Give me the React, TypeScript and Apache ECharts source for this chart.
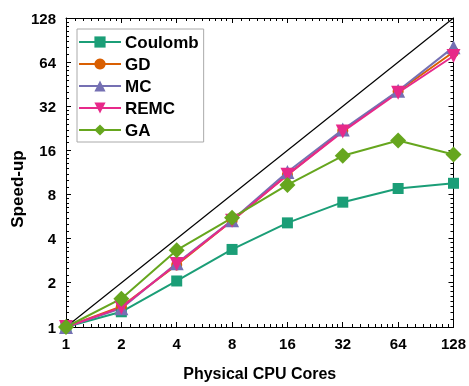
import React, { useEffect, useRef } from "react";
import * as echarts from "echarts";

// Physical CPU cores (x) and measured speed-up per method (y)
const cores = [1, 2, 4, 8, 16, 32, 64, 128];
const coulomb = [1, 1.27, 2.06, 3.38, 5.13, 7.1, 8.8, 9.55];
const gd = [1, 1.38, 2.65, 5.3, 10.9, 21.8, 40.5, 75];
const mc = [1, 1.34, 2.72, 5.35, 11.4, 22.2, 40.8, 81];
const remc = [1, 1.36, 2.69, 5.3, 10.9, 21.5, 39.6, 70.5];
const ga = [1, 1.56, 3.34, 5.55, 9.3, 14.7, 18.7, 15.0];
// Ideal linear scaling reference
const ideal = [1, 128];

// Tick marks drawn on all four sides of the frame (both axes share 1..128)
const AXIS_MIN = 1;
const AXIS_MAX = 128;
const majorTicks = [1, 2, 4, 8, 16, 32, 64, 128];
const minorSteps = [1.125, 1.25, 1.375, 1.5, 1.625, 1.75, 1.875];
const tickValues = [
  ...majorTicks,
  ...majorTicks.slice(0, -1).flatMap((m) => minorSteps.map((s) => m * s)),
];

const FONT = "'Liberation Sans', Arial, Helvetica, sans-serif";

const pairs = (ys: number[]) => cores.map((c, i) => [c, ys[i]]);

const logAxis = (extra: Record<string, unknown>) => ({
  type: "log",
  logBase: 2,
  min: AXIS_MIN,
  max: AXIS_MAX,
  interval: 1,
  axisLine: { show: true, onZero: false, lineStyle: { color: "#000" } },
  axisTick: { show: false },
  minorTick: { show: false },
  splitLine: { show: false },
  ...extra,
});

const labelStyle = {
  show: true,
  color: "#000",
  fontWeight: "bold",
  fontSize: 15,
  fontFamily: FONT,
  formatter: (v: number) => String(Math.round(v)),
};

const crisp = (p: number) => Math.round(p - 0.5) + 0.5;

export default function App() {
  const ref = useRef<HTMLDivElement>(null);

  useEffect(() => {
    if (!ref.current) return;
    const chart = echarts.init(ref.current, null, { renderer: "svg" });

    const mk = (
      name: string,
      ys: number[],
      color: string,
      symbol: string,
      symbolSize: number
    ) => ({
      name,
      type: "line",
      data: pairs(ys),
      symbol,
      symbolSize,
      showSymbol: true,
      lineStyle: { color, width: 2 },
      itemStyle: { color },
      emphasis: { disabled: true },
    });

    chart.setOption({
      animation: false,
      grid: { left: 66, right: 13, top: 18, bottom: 56 },
      legend: {
        data: ["Coulomb", "GD", "MC", "REMC", "GA"],
        orient: "vertical",
        left: 77,
        top: 29,
        itemWidth: 42,
        itemHeight: 14,
        itemGap: 2,
        padding: [3, 5, 2, 1],
        borderColor: "#aaa",
        borderWidth: 1,
        backgroundColor: "#fff",
        z: 10,
        textStyle: {
          color: "#000",
          fontWeight: "bold",
          fontSize: 17,
          fontFamily: FONT,
          lineHeight: 20,
          padding: [0, 0, 0, -1],
        },
      },
      xAxis: [
        logAxis({
          position: "bottom",
          name: "Physical CPU Cores",
          nameLocation: "middle",
          nameGap: 38,
          nameTextStyle: {
            color: "#000",
            fontWeight: "bold",
            fontSize: 16,
            fontFamily: FONT,
          },
          axisLabel: { ...labelStyle, margin: 9 },
        }),
        logAxis({ position: "top", axisLabel: { show: false } }),
      ],
      yAxis: [
        logAxis({ position: "left", axisLabel: { ...labelStyle, margin: 10 } }),
        logAxis({ position: "right", axisLabel: { show: false } }),
      ],
      graphic: [
        {
          type: "text",
          x: 17,
          y: 189,
          rotation: Math.PI / 2,
          style: {
            text: "Speed-up",
            fill: "#000",
            font: `bold 17px ${FONT}`,
            textAlign: "center",
            textVerticalAlign: "middle",
          },
        },
      ],
      series: [
        {
          name: "ticks",
          type: "custom",
          silent: true,
          clip: false,
          z: 1,
          data: tickValues.map((v) => [v, v]),
          encode: { x: 0, y: 1 },
          renderItem: (_params: unknown, api: any) => {
            const v = api.value(0) as number;
            const len = majorTicks.includes(v) ? 5 : 3;
            const [bx, by] = api.coord([v, AXIS_MIN]);
            const [, ty] = api.coord([v, AXIS_MAX]);
            const [lx, ly] = api.coord([AXIS_MIN, v]);
            const [rx] = api.coord([AXIS_MAX, v]);
            const x = crisp(bx);
            const y = crisp(ly);
            const st = { stroke: "#000", lineWidth: 1 };
            return {
              type: "group",
              children: [
                { type: "line", shape: { x1: x, y1: by, x2: x, y2: by - len }, style: st },
                { type: "line", shape: { x1: x, y1: ty, x2: x, y2: ty + len }, style: st },
                { type: "line", shape: { x1: lx, y1: y, x2: lx + len, y2: y }, style: st },
                { type: "line", shape: { x1: rx, y1: y, x2: rx - len, y2: y }, style: st },
              ],
            };
          },
        },
        {
          name: "ideal",
          type: "line",
          data: ideal.map((v) => [v, v]),
          symbol: "none",
          lineStyle: { color: "#000", width: 1.2 },
          emphasis: { disabled: true },
        },
        mk("Coulomb", coulomb, "#1b9e77", "rect", 11),
        mk("GD", gd, "#d95f02", "circle", 11),
        mk("MC", mc, "#7570b3", "triangle", 14),
        mk("REMC", remc, "#e7298a", "path://M0,0 L10,0 L5,9 Z", 14),
        mk("GA", ga, "#66a61e", "diamond", 16),
      ],
    });

    return () => chart.dispose();
  }, []);

  return (
    <div
      ref={ref}
      style={{ position: "fixed", left: 0, top: 0, width: 469, height: 386 }}
    />
  );
}
